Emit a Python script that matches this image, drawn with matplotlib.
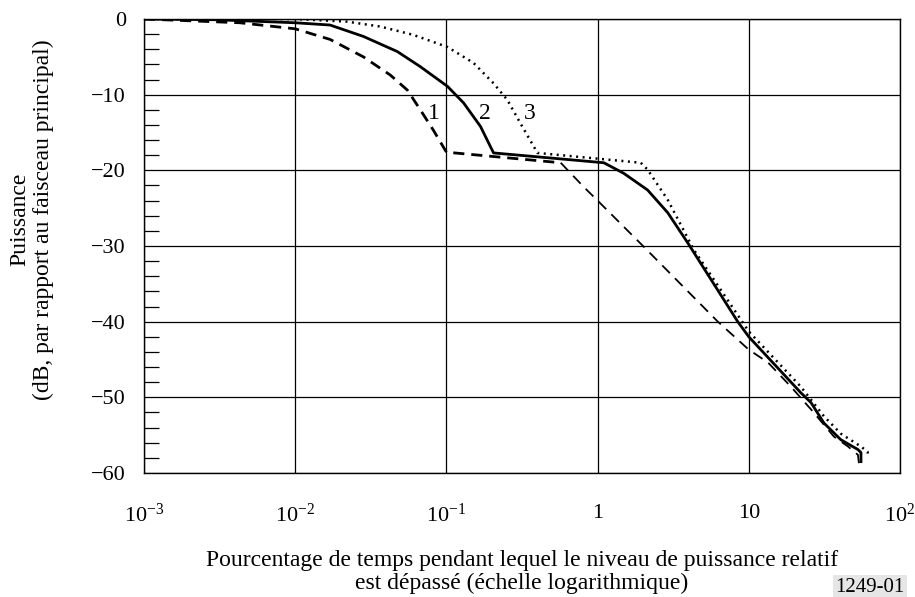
import matplotlib.pyplot as plt
from matplotlib.ticker import MultipleLocator

plt.rcParams['font.family'] = ['Liberation Serif', 'DejaVu Serif']
plt.rcParams['mathtext.fontset'] = 'custom'
plt.rcParams['mathtext.rm'] = 'Liberation Serif'
plt.rcParams['mathtext.it'] = 'Liberation Serif:italic'

# courbe 1 (tirets)
x1 = [0.001, 0.0043, 0.01, 0.017, 0.0282, 0.0425, 0.0552, 0.0672, 0.082, 0.1,
      0.57, 0.81, 1.0, 2.02, 6.24, 10, 13.4, 19, 25.8, 36.6, 45.3, 52.7, 53.5]
y1 = [0, -0.5, -1.3, -2.7, -5.0, -7.4, -9.4, -12.0, -14.7, -17.6,
      -19.0, -22.2, -24.0, -30.1, -40.0, -43.7, -45.4, -48.6, -51.6, -55.2, -56.5, -57.6, -58.7]
k1 = 11  # fin de la partie en trait épais

# courbe 2 (trait plein)
x2 = [0.001, 0.003, 0.01, 0.017, 0.0282, 0.0473, 0.0672, 0.1016, 0.13, 0.168, 0.205,
      1.1, 1.49, 2.14, 2.91, 3.95, 8.45, 10, 22.1, 25.8, 31.4, 40.6, 52.7, 55.2, 55.2]
y2 = [0, -0.1, -0.5, -0.8, -2.3, -4.3, -6.3, -8.9, -11.1, -14.2, -17.7,
      -19.0, -20.4, -22.6, -25.6, -29.6, -40.0, -42.0, -49.4, -50.7, -53.4, -55.6, -56.9, -57.3, -58.5]

# courbe 3 (pointillés)
x3 = [0.001, 0.01, 0.022, 0.0366, 0.0604, 0.1016, 0.151, 0.205, 0.253, 0.309, 0.4,
      1.93, 2.14, 2.91, 4.33, 10, 22.1, 31.4, 40.6, 55.2, 61, 62]
y3 = [0, 0, -0.35, -1.0, -2.1, -3.7, -5.8, -8.5, -10.7, -13.8, -17.7,
      -19.0, -19.9, -23.9, -30.5, -41.3, -48.6, -52.5, -54.8, -56.5, -57.2, -58.0]

x_ticks = [0.001, 0.01, 0.1, 1, 10, 100]
x_labels = ['10$^{-3}$', '10$^{-2}$', '10$^{-1}$', '1', '10', '10$^{2}$']
y_ticks = [0, -10, -20, -30, -40, -50, -60]
y_labels = ['0', '\u221210', '\u221220', '\u221230', '\u221240', '\u221250', '\u221260']

curve_labels = ['1', '2', '3']
label_x = [0.082, 0.179, 0.355]
label_y = -12.5

fig = plt.figure(figsize=(9.15, 5.97), dpi=100)
ax = fig.add_axes([0.1574, 0.2077, 0.8262, 0.7605])

ax.plot(x1[:k1], y1[:k1], color='black', lw=2.0, ls=(0, (4, 2.5)))
ax.plot(x1[k1 - 1:], y1[k1 - 1:], color='black', lw=1.3, ls=(0, (6, 4)))
ax.plot(x2, y2, color='black', lw=2.0)
ax.plot(x3, y3, color='black', lw=1.8, ls=(0, (0.8, 1.8)))

for t, xv in zip(curve_labels, label_x):
    ax.text(xv, label_y, t, fontsize=17, ha='center', va='center')

ax.set_xscale('log')
ax.set_xlim(0.001, 100)
ax.set_ylim(-60, 0)
ax.set_xticks(x_ticks)
ax.set_xticklabels(x_labels)
ax.minorticks_off()
ax.set_yticks(y_ticks)
ax.set_yticklabels(y_labels)
ax.yaxis.set_minor_locator(MultipleLocator(2))

ax.tick_params(axis='x', which='major', length=0, pad=22, labelsize=16)
ax.tick_params(axis='y', which='major', length=0, pad=13, labelsize=16)
ax.tick_params(axis='y', which='minor', direction='in', length=11, width=0.9, left=True, right=False)

ax.grid(True, which='major', color='black', lw=0.9)
for s in ax.spines.values():
    s.set_linewidth(1.0)

fig.text(0.022, 0.632, 'Puissance', rotation=90, ha='center', va='center', fontsize=17)
fig.text(0.047, 0.632, '(dB, par rapport au faisceau principal)', rotation=90,
         ha='center', va='center', fontsize=17)

fig.text(0.5705, 0.042, 'Pourcentage de temps pendant lequel le niveau de puissance relatif\n'
         'est dépassé (échelle logarithmique)', ha='center', va='center', fontsize=17,
         linespacing=1.12)

fig.text(0.9508, 0.016, '1249-01', ha='center', va='center', fontsize=15,
         bbox=dict(facecolor='#e6e6e6', edgecolor='none', pad=2))

fig.savefig('out.png', dpi=100)
